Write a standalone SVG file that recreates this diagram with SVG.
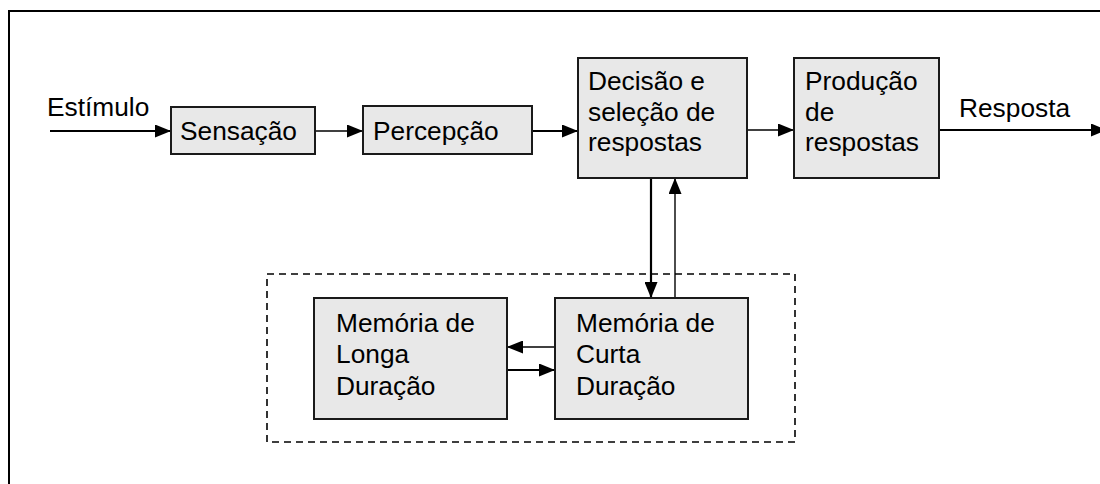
<svg xmlns="http://www.w3.org/2000/svg" width="1100" height="484" viewBox="0 0 1100 484">
<defs>
<style>
.box{fill:#e8e8e8;stroke:#1a1a1a;stroke-width:2}
.t{font-family:"Liberation Sans",Arial,sans-serif;font-size:26.3px;fill:#000}
.thick{stroke:#000;stroke-width:2.2;fill:none}
.thin{stroke:#000;stroke-width:1.4;fill:none}
</style>
<marker id="ah" markerUnits="userSpaceOnUse" markerWidth="16" markerHeight="13" refX="16" refY="6.5" orient="auto">
<path d="M0,0 L16,6.5 L0,13 z" fill="#000"/>
</marker>
</defs>
<rect width="1100" height="484" fill="#fff"/>
<rect id="frame" x="9" y="11" width="1110" height="500" fill="none" stroke="#000" stroke-width="2"/>
<rect id="stm-group" x="267" y="274" width="528" height="168" fill="none" stroke="#000" stroke-width="1.6" stroke-dasharray="7,5"/>
<g id="connectors">
<line class="thick" x1="50" y1="131" x2="171" y2="131" marker-end="url(#ah)"/>
<line class="thin" x1="315" y1="131" x2="363" y2="131" marker-end="url(#ah)"/>
<line class="thick" x1="532" y1="131" x2="578" y2="131" marker-end="url(#ah)"/>
<line class="thin" x1="747" y1="130" x2="794" y2="130" marker-end="url(#ah)"/>
<line class="thick" x1="939" y1="130" x2="1107" y2="130" marker-end="url(#ah)"/>
<line class="thick" x1="651" y1="178" x2="651" y2="298" marker-end="url(#ah)"/>
<line class="thin" x1="675" y1="298" x2="675" y2="178" marker-end="url(#ah)"/>
<line class="thin" x1="555" y1="347" x2="507" y2="347" marker-end="url(#ah)"/>
<line class="thick" x1="507" y1="370" x2="555" y2="370" marker-end="url(#ah)"/>
</g>
<text class="t" x="47" y="116">Estímulo</text>
<text class="t" x="959" y="117">Resposta</text>
<g id="sensacao">
<rect class="box" x="171" y="107" width="144" height="47"/>
<text class="t" x="180" y="140">Sensação</text>
</g>
<g id="percepcao">
<rect class="box" x="363" y="106" width="169" height="48"/>
<text class="t" x="373" y="140">Percepção</text>
</g>
<g id="decisao">
<rect class="box" x="578" y="58" width="169" height="120"/>
<text class="t" x="588" y="90">Decisão e</text>
<text class="t" x="588" y="121">seleção de</text>
<text class="t" x="588" y="151">respostas</text>
</g>
<g id="producao">
<rect class="box" x="794" y="58" width="145" height="120"/>
<text class="t" x="805" y="90">Produção</text>
<text class="t" x="805" y="121">de</text>
<text class="t" x="805" y="151">respostas</text>
</g>
<g id="longa">
<rect class="box" x="314" y="298" width="193" height="121"/>
<text class="t" x="336" y="332">Memória de</text>
<text class="t" x="336" y="363">Longa</text>
<text class="t" x="336" y="395">Duração</text>
</g>
<g id="curta">
<rect class="box" x="555" y="298" width="193" height="121"/>
<text class="t" x="576" y="332">Memória de</text>
<text class="t" x="576" y="363">Curta</text>
<text class="t" x="576" y="395">Duração</text>
</g>
</svg>
